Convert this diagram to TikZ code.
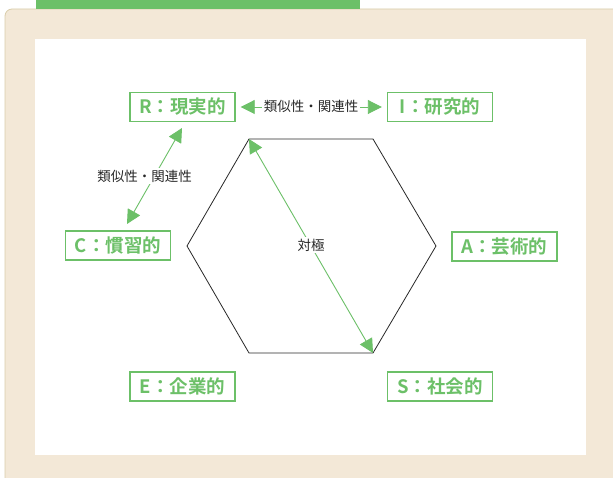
\documentclass[tikz,border=0pt]{standalone}
\usepackage{fontspec}
\newfontfamily\jp{Noto Sans CJK JP}
\newfontfamily\jpb{Noto Sans CJK JP Bold}
\usetikzlibrary{arrows.meta}
\definecolor{tgreen}{RGB}{108,192,104}
\definecolor{beige}{RGB}{243,232,215}
\definecolor{tan}{RGB}{217,205,170}
\definecolor{ink}{RGB}{40,40,40}
\tikzset{
  typebox/.style={draw=tgreen, line width=1.4pt, fill=white, text=tgreen,
    font=\jpb\fontsize{18.5}{18.5}\selectfont, minimum width=105pt,
    minimum height=29pt, inner sep=0pt},
  rel/.style={draw=tgreen, line width=0.9pt,
    {Triangle[length=14pt,width=14pt]}-{Triangle[length=14pt,width=14pt]}},
  note/.style={fill=white, text=ink, font=\jp\fontsize{13.5}{13.5}\selectfont,
    inner sep=2pt},
  hexline/.style={draw=ink, line width=0.8pt}
}
\begin{document}
\begin{tikzpicture}[x=1pt,y=-1pt]
\useasboundingbox (0,0) rectangle (613,478);
\clip (0,0) rectangle (613,478);
% panel
\draw[fill=beige, draw=tan, line width=0.8pt, rounded corners=7pt] (5,9) rectangle (640,500);
\fill[tgreen] (36,-5) rectangle (360,9);
\fill[white] (35,39) rectangle (586,455);
% hexagon
\coordinate (h1) at (249,139);
\coordinate (h2) at (373,139);
\coordinate (h3) at (436,246);
\coordinate (h4) at (373,353);
\coordinate (h5) at (249,353);
\coordinate (h6) at (187,246);
\draw[hexline] (h1) -- (h2) -- (h3) -- (h4) -- (h5) -- (h6) -- cycle;
% boxes
\node[typebox] (r) at (182.5,107) {R：現実的};
\node[typebox] (i) at (440,107) {I：研究的};
\node[typebox] (c) at (118,245.5) {C：慣習的};
\node[typebox] (a) at (504.5,246.5) {A：芸術的};
\node[typebox] (e) at (182.5,386.5) {E：企業的};
\node[typebox] (s) at (440,386.5) {S：社会的};
% relations
\draw[rel, shorten <=5pt, shorten >=5pt] (r.east) -- (i.west);
\node[note] (n1) at (311,106) {類似性・関連性};
\coordinate (rt) at (182,128);
\coordinate (cb) at (127,224);
\draw[rel] (rt) -- (cb);
\node[note] (n2) at (144.5,176) {類似性・関連性};
\draw[rel] (h1) -- (h4);
\node[note] (n3) at (311,245) {対極};
\end{tikzpicture}
\end{document}
